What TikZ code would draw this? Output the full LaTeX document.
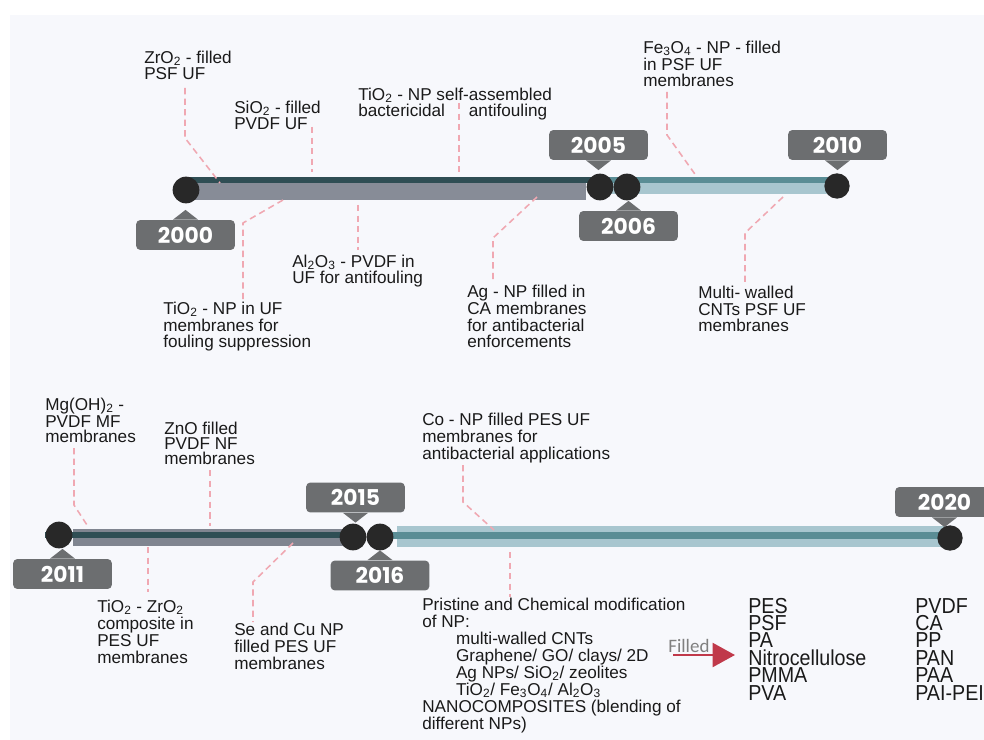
\documentclass[tikz,border=0pt]{standalone}
\usepackage{fontspec}
\setmainfont{Liberation Sans}
\newfontfamily\yearfont{Poppins}
\newfontfamily\filledfont{Carlito}
\usetikzlibrary{
  arrows.meta,
  calc,
  positioning
}
\definecolor{panelbg}{RGB}{247,248,252}
\definecolor{yeargray}{RGB}{108,110,112}
\definecolor{dotblack}{RGB}{40,40,40}
\definecolor{darkteal}{RGB}{47,78,84}
\definecolor{slategray}{RGB}{135,140,151}
\definecolor{midteal}{RGB}{90,141,149}
\definecolor{paleteal}{RGB}{168,198,207}
\definecolor{leadpink}{RGB}{240,168,178}
\definecolor{filledred}{RGB}{192,57,74}
\definecolor{textblack}{RGB}{26,26,26}

\begin{document}
\begin{tikzpicture}[x=0.025cm, y=-0.025cm,
  note/.style={font=\fontsize{12.2}{12.05}\selectfont, align=left, anchor=base west, inner sep=0pt, text=textblack},
  tight/.style={font=\fontsize{12.2}{10.6}\selectfont},
  yearbox/.style={fill=yeargray, rounded corners=3pt, minimum width=70.2pt, minimum height=21.3pt, inner sep=0pt, text=white, font=\yearfont\bfseries\fontsize{15.5}{15.5}\selectfont},
  dot/.style={circle, fill=dotblack, minimum size=19pt, inner sep=0pt},
  lead/.style={draw=leadpink, dash pattern=on 4.5pt off 3pt, line width=1.1pt},
  polylist/.style={anchor=base west, inner sep=0pt, text=textblack}]
  \useasboundingbox (0,0) rectangle (984,740);
  \fill[white] (0,0) rectangle (984,740);
  \fill[panelbg] (10,15) rectangle (984,740);

  % Bars 2000-2010
  \fill[slategray] (186,183) rectangle (586,200);
  \fill[darkteal] (186,177) rectangle (600,183);
  \fill[paleteal] (600,183) rectangle (837,194);
  \fill[midteal] (600,177) rectangle (837,183);

  % Bars 2011-2020
  \fill[slategray!95!black] (73,529) rectangle (353,546);
  \fill[darkteal] (45,532) rectangle (353,538);
  \fill[paleteal] (397,526) rectangle (951,547);
  \fill[midteal] (380,532) rectangle (951,539);

  % Dots
  \node[dot] (d2000) at (186,190) {};
  \node[dot] (d2005) at (600,187) {};
  \node[dot] (d2006) at (627,187) {};
  \node[dot, minimum size=18pt] (d2010) at (837,186) {};
  \node[dot] (d2011) at (59,535) {};
  \node[dot] (d2015) at (353,537) {};
  \node[dot] (d2016) at (380,537) {};
  \node[dot, minimum size=18pt] (d2020) at (950,538) {};

  % Year boxes
  \node[yearbox] (y2000) at (185.5,235) {2000};
  \node[yearbox] (y2005) at (598.5,145) {2005};
  \node[yearbox] (y2006) at (628.5,226) {2006};
  \node[yearbox] (y2010) at (837.5,145) {2010};
  \node[yearbox] (y2011) at (62.5,574) {2011};
  \node[yearbox] (y2015) at (355.5,497.5) {2015};
  \node[yearbox] (y2016) at (380,575.5) {2016};
  \node[yearbox] (y2020) at (944.5,502) {2020};

  % Pointers
  \foreach \b in {y2000,y2006,y2011,y2016}
    \fill[yeargray] ([xshift=-9pt]\b.north) -- ([yshift=7pt]\b.north) -- ([xshift=9pt]\b.north) -- cycle;
  \foreach \b in {y2005,y2010,y2015,y2020}
    \fill[yeargray] ([xshift=-9pt]\b.south) -- ([yshift=-7pt]\b.south) -- ([xshift=9pt]\b.south) -- cycle;

  % Notes 2000-2010 (placed at baseline of last line)
  \node[note] (zro) at (144,80) {ZrO\textsubscript{2} - filled\\PSF UF};
  \node[note] (sio) at (234,130) {SiO\textsubscript{2} - filled\\PVDF UF};
  \node[note] (tioself) at (358,117) {TiO\textsubscript{2} - NP self-assembled\\bactericidal\hspace{17pt}antifouling};
  \node[note] (feo) at (643,87) {Fe\textsubscript{3}O\textsubscript{4} - NP - filled\\in PSF UF\\membranes};
  \node[note] (tiouf) at (163,348) {TiO\textsubscript{2} - NP in UF\\membranes for\\fouling suppression};
  \node[note] (alo) at (292,284) {Al\textsubscript{2}O\textsubscript{3} - PVDF in\\UF for antifouling};
  \node[note] (agnp) at (467,348) {Ag - NP filled in\\CA membranes\\for antibacterial\\enforcements};
  \node[note] (mwcnt) at (698,332) {Multi- walled\\CNTs PSF UF\\membranes};

  % Notes 2011-2020
  \node[note, tight] (mgoh) at (45,442) {Mg(OH)\textsubscript{2} -\\PVDF MF\\membranes};
  \node[note, tight] (zno) at (164,464) {ZnO filled\\PVDF NF\\membranes};
  \node[note] (conp) at (422,459) {Co - NP filled PES UF\\membranes for\\antibacterial applications};
  \node[note] (tiozro) at (97,663) {TiO\textsubscript{2} - ZrO\textsubscript{2}\\composite in\\PES UF\\membranes};
  \node[note] (secu) at (234,669) {Se and Cu NP\\filled PES UF\\membranes};
  \node[note] (prist) at (422,729) {Pristine and Chemical modification\\of NP:\\
    \hspace{24pt}multi-walled CNTs\\
    \hspace{24pt}Graphene/ GO/ clays/ 2D\\
    \hspace{24pt}Ag NPs/ SiO\textsubscript{2}/ zeolites\\
    \hspace{24pt}TiO\textsubscript{2}/ Fe\textsubscript{3}O\textsubscript{4}/ Al\textsubscript{2}O\textsubscript{3}\\
    NANOCOMPOSITES (blending of\\different NPs)};

  % Filled arrow and polymers
  \node[anchor=base west, inner sep=0pt, text=gray, font=\filledfont\fontsize{13.5}{13.5}\selectfont] (filled) at (668,652) {Filled};
  \coordinate (arrS) at (673,655);
  \coordinate (arrE) at (735,655);
  \draw[filledred, line width=2.1pt, -{Triangle[length=16pt, width=17pt]}] (arrS) -- (arrE);
  \node[polylist] (polyA) at (748,613) {\scalebox{1}[1.1]{\parbox[t]{3cm}{\raggedright\fontsize{14}{11.25}\selectfont\lineskiplimit=-10pt
    PES\\PSF\\PA\\Nitrocellulose\\PMMA\\PVA}}};
  \node[polylist] (polyB) at (915,613) {\scalebox{1}[1.1]{\parbox[t]{3cm}{\raggedright\fontsize{14}{11.25}\selectfont\lineskiplimit=-10pt
    PVDF\\CA\\PP\\PAN\\PAA\\PAI-PEI}}};

  % Leads 2000-2010
  \coordinate (zroA) at (185,88);   \coordinate (zroB) at (220,183);
  \draw[lead] (zroA) -- (185,138) -- (zroB);
  \coordinate (sioA) at (312,127);  \coordinate (sioB) at (312,172);
  \draw[lead] (sioA) -- (sioB);
  \coordinate (tioA) at (459,103);  \coordinate (tioB) at (459,172);
  \draw[lead] (tioA) -- (tioB);
  \coordinate (feoA) at (667,92);   \coordinate (feoB) at (697,177);
  \draw[lead] (feoA) -- (667,135) -- (feoB);
  \coordinate (tiufA) at (283,200); \coordinate (tiufB) at (243,300);
  \draw[lead] (tiufA) -- (243,223) -- (tiufB);
  \coordinate (aloA) at (358,205);  \coordinate (aloB) at (358,250);
  \draw[lead] (aloA) -- (aloB);
  \coordinate (agA) at (537,197);   \coordinate (agB) at (493,282);
  \draw[lead] (agA) -- (493,238) -- (agB);
  \coordinate (mwA) at (783,197);   \coordinate (mwB) at (745,285);
  \draw[lead] (mwA) -- (745,233) -- (mwB);

  % Leads 2011-2020
  \coordinate (mgA) at (74,448);    \coordinate (mgB) at (87,525);
  \draw[lead] (mgA) -- (74,505) -- (mgB);
  \coordinate (znA) at (210,470);   \coordinate (znB) at (210,526);
  \draw[lead] (znA) -- (znB);
  \coordinate (coA) at (463,465);   \coordinate (coB) at (494,530);
  \draw[lead] (coA) -- (463,502) -- (coB);
  \coordinate (tzA) at (148,547);   \coordinate (tzB) at (148,592);
  \draw[lead] (tzA) -- (tzB);
  \coordinate (scA) at (293,543);   \coordinate (scB) at (253,622);
  \draw[lead] (scA) -- (253,582) -- (scB);
  \coordinate (prA) at (510,552);   \coordinate (prB) at (510,597);
  \draw[lead] (prA) -- (prB);
\end{tikzpicture}
\end{document}
